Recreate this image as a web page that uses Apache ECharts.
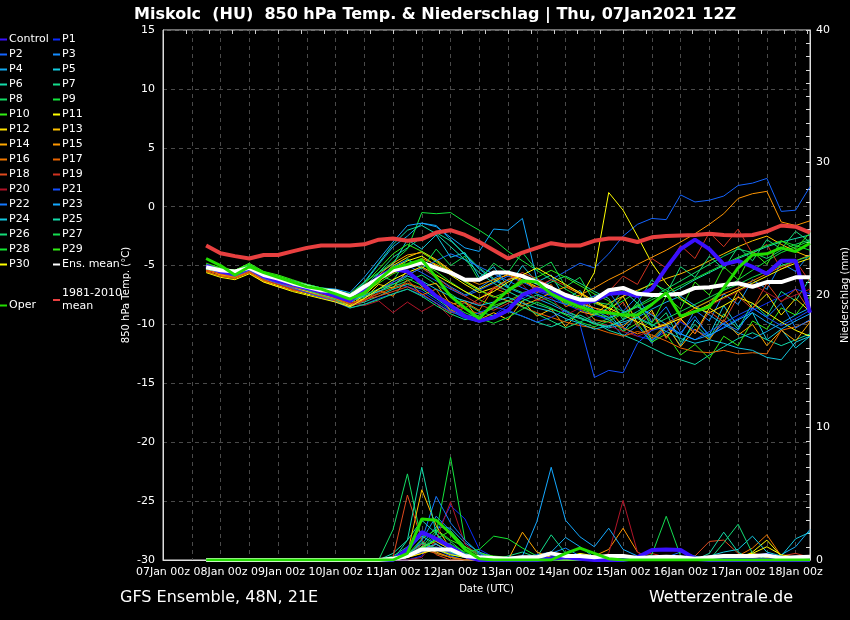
<!DOCTYPE html>
<html>
<head>
<meta charset="utf-8">
<title>Miskolc 850 hPa</title>
<script src="https://cdn.jsdelivr.net/npm/echarts@6/dist/echarts.min.js"></script>
<style>
  html, body { margin: 0; padding: 0; background: #000; }
  #chart { width: 850px; height: 620px; }
</style>
</head>
<body>
<div id="chart"></div>
<script>
// forecast hours from 07Jan 00z (run is 12z, first step 07Jan 18z)
var hours = [18,24,30,36,42,48,54,60,66,72,78,84,90,96,102,108,114,120,126,132,138,144,150,156,162,168,174,180,186,192,198,204,210,216,222,228,234,240,246,252,258,264,270];

// 850 hPa temperature (°C)
var tCtrl = [-5.0,-5.5,-5.7,-5.2,-5.9,-6.3,-6.6,-6.9,-7.2,-7.6,-8.0, -7.0,-6.0,-5.3,-5.5,-6.5,-7.6,-8.4,-9.3,-9.7,-9.4,-8.8,-7.5,-7.0,-7.3,-7.8,-8.2,-8.0, -7.4,-7.3,-7.6,-7.0,-5.2,-3.6,-2.8,-3.6,-4.9,-4.6,-5.1,-5.7,-4.6,-4.6,-9.0];
var tOper = [-4.4,-5.0,-5.8,-5.1,-5.6,-6.0,-6.4,-6.8,-7.0,-7.4,-7.85, -7.3,-6.2,-5.2,-4.9,-4.5,-6.0,-7.6,-8.6,-9.5,-8.2,-7.1,-6.3,-6.4,-7.4,-8.0,-8.5,-8.9, -9.0,-9.2,-9.2,-8.3,-7.3,-9.3,-8.9,-8.5,-6.9,-5.2,-4.1,-4.0,-3.5,-3.8,-3.1];
var tMean = [-5.15,-5.4,-5.5,-5.2,-5.8,-6.1,-6.5,-6.8,-7.1,-7.2,-7.6, -6.8,-6.1,-5.4,-5.1,-4.75,-5.2,-5.6,-6.2,-6.2,-5.6,-5.6,-5.9,-6.4,-6.9,-7.5,-7.9,-7.9, -7.1,-6.9,-7.4,-7.5,-7.5,-7.4,-6.9,-6.85,-6.65,-6.5,-6.8,-6.4,-6.4,-6.0,-6.0];
var tClim = [-3.3,-3.95,-4.2,-4.4,-4.1,-4.1,-3.8,-3.5,-3.3,-3.3,-3.3, -3.2,-2.8,-2.7,-2.9,-2.75,-2.2,-2.0,-2.4,-3.0,-3.7,-4.4,-3.9,-3.5,-3.1,-3.3,-3.3,-2.9, -2.7,-2.7,-3.0,-2.6,-2.5,-2.45,-2.4,-2.3,-2.4,-2.45,-2.4,-2.1,-1.6,-1.7,-2.2];

var tP1  = [-5.3,-5.6,-5.8,-5.3,-6.0,-6.4,-6.8,-7.2,-7.6,-8.0,-8.5, -7.8,-7.0,-6.5,-6.8,-7.2,-8.0,-8.8,-9.5,-9.8,-9.2,-8.4,-7.8,-7.2,-7.6,-8.3,-8.8,-9.2, -9.6,-10.2,-11.0,-11.3,-10.6,-9.8,-10.5,-11.0,-10.2,-9.5,-8.8,-8.2,-7.6,-7.0,-7.4];
var tP2  = [-5.0,-5.5,-5.7,-5.1,-5.9,-6.2,-6.6,-7.0,-7.4,-7.6,-8.1, -7.2,-6.1,-5.5,-5.0,-5.6,-6.3,-7.0,-7.6,-7.1,-6.5,-5.9,-6.4,-7.0,-6.2,-5.5,-4.8,-5.2, -4.0,-2.5,-1.5,-1.0,-1.1,1.0,0.4,0.55,0.9,1.8,2.0,2.4,-0.4,-0.3,1.7];
var tP3  = [-5.1,-5.4,-5.6,-5.2,-5.8,-6.2,-6.6,-6.9,-7.3,-7.6,-8.0, -7.0,-6.0,-5.1,-4.5,-5.2,-6.0,-6.8,-7.5,-6.9,-6.1,-5.5,-6.0,-6.6,-7.2,-7.8,-8.3,-9.0, -9.6,-11.0,-10.1,-11.6,-10.2,-10.9,-8.8,-9.7,-7.4,-8.3,-6.2,-7.0,-4.8,-5.5,-4.0];
var tP4  = [-5.2,-5.4,-5.6,-5.1,-5.8,-6.1,-6.5,-6.8,-7.1,-7.3,-7.7, -6.5,-4.9,-3.4,-2.5,-1.4,-1.6,-2.8,-4.1,-5.3,-6.2,-6.9,-7.4,-7.8,-8.3,-8.9,-9.4,-9.9, -10.3,-10.0,-9.4,-8.7,-8.1,-7.6,-8.4,-9.2,-10.0,-10.7,-11.2,-10.6,-9.9,-9.2,-8.6];
var tP5  = [-5.2,-5.6,-5.7,-5.2,-5.9,-6.2,-6.6,-7.0,-7.3,-7.7,-8.2, -7.4,-5.6,-4.9,-2.8,-3.6,-2.4,-4.3,-3.9,-6.0,-5.1,-6.8,-5.0,-6.4,-5.8,-7.9,-7.1,-8.9, -9.0,-10.6,-9.2,-11.4,-10.1,-11.8,-9.6,-10.9,-8.4,-10.2,-9.0,-11.3,-10.4,-12.0,-11.0];
var tP6  = [-5.3,-5.7,-5.8,-5.3,-6.0,-6.3,-6.7,-7.0,-7.4,-7.8,-8.4, -8.1,-7.6,-7.0,-6.6,-7.0,-7.8,-8.7,-9.4,-9.8,-9.5,-8.9,-9.3,-9.8,-10.2,-9.7,-9.2,-9.8, -10.5,-10.9,-11.4,-12.0,-12.6,-13.0,-13.4,-12.6,-11.9,-11.2,-10.7,-11.3,-11.8,-11.3,-10.8];
var tP7  = [-5.0,-5.3,-5.5,-5.0,-5.7,-6.0,-6.4,-6.7,-7.0,-7.3,-7.8, -6.8,-5.6,-4.3,-3.5,-2.6,-2.2,-2.9,-4.0,-5.2,-6.1,-6.8,-7.3,-7.0,-6.4,-5.9,-6.5,-7.2, -7.8,-9.6,-8.1,-10.2,-9.0,-11.5,-10.0,-11.2,-9.1,-10.4,-8.2,-9.3,-7.2,-8.0,-6.1];
var tP8  = [-5.3,-5.5,-5.6,-5.2,-5.9,-6.2,-6.6,-6.9,-7.2,-7.5,-8.0, -7.7,-7.2,-6.8,-6.3,-5.8,-6.6,-7.4,-8.2,-8.9,-9.3,-8.7,-8.0,-7.5,-8.1,-8.8,-9.4,-10.0, -9.5,-9.0,-8.4,-7.7,-7.0,-6.3,-5.6,-4.9,-4.2,-3.6,-3.9,-4.4,-3.7,-3.2,-2.8];
var tP9  = [-4.9,-5.3,-5.4,-4.9,-5.6,-5.9,-6.3,-6.6,-6.9,-7.1,-7.4, -6.4,-5.6,-4.7,-3.6,-0.5,-0.6,-0.5,-1.3,-2.0,-2.8,-3.8,-4.6,-5.4,-6.2,-7.0,-7.7,-8.2, -8.6,-8.0,-7.2,-6.5,-7.1,-7.9,-8.6,-8.0,-7.1,-6.2,-5.4,-4.6,-3.9,-3.4,-2.9];
var tP10 = [-4.8,-5.2,-5.4,-4.9,-5.6,-5.9,-6.3,-6.7,-7.0,-7.3,-7.8, -7.2,-6.5,-5.7,-5.2,-4.8,-5.5,-6.4,-7.2,-7.9,-8.4,-8.0,-7.4,-7.0,-7.5,-8.2,-8.7,-9.1, -9.4,-10.6,-9.9,-11.5,-10.8,-12.6,-11.7,-12.9,-11.0,-11.8,-9.7,-10.4,-8.6,-9.2,-7.6];
var tP11 = [-5.4,-5.7,-5.9,-5.5,-6.3,-6.7,-7.1,-7.4,-7.7,-8.0,-8.4, -7.5,-6.4,-5.2,-4.6,-4.2,-5.0,-5.8,-6.6,-7.3,-6.9,-6.2,-5.8,-6.5,-7.3,-8.0,-7.8,-5.6, 1.2,-0.3,-2.5,-4.8,-6.5,-7.8,-8.6,-9.0,-8.4,-7.7,-8.2,-9.0,-9.8,-10.5,-11.0];
var tP12 = [-5.3,-5.8,-6.0,-5.5,-6.2,-6.5,-6.9,-7.2,-7.5,-7.7,-8.1, -7.3,-6.1,-5.0,-4.3,-3.8,-4.5,-5.4,-6.3,-7.0,-6.4,-5.7,-6.2,-6.8,-7.3,-7.8,-8.2,-8.6, -8.9,-7.6,-9.9,-8.8,-11.1,-9.5,-10.8,-8.6,-9.4,-7.1,-8.6,-7.4,-9.2,-7.8,-8.9];
var tP13 = [-5.4,-5.7,-5.9,-5.4,-6.1,-6.5,-6.9,-7.2,-7.5,-7.8,-8.2, -7.8,-6.6,-6.9,-5.4,-6.8,-6.5,-8.3,-8.0,-9.6,-9.0,-9.6,-8.0,-9.3,-8.7,-10.2,-8.9,-9.2, -8.2,-7.6,-7.1,-6.6,-6.1,-5.7,-5.2,-4.6,-4.0,-3.4,-2.9,-2.5,-3.2,-3.8,-4.3];
var tP14 = [-5.1,-5.5,-5.8,-5.3,-6.0,-6.3,-6.7,-7.0,-7.3,-7.6,-8.0, -7.0,-5.8,-4.8,-4.1,-3.9,-4.6,-5.5,-6.4,-7.1,-7.6,-8.0,-8.4,-7.9,-7.3,-6.8,-7.4,-8.1, -8.7,-10.2,-9.1,-11.2,-10.0,-11.9,-10.4,-11.3,-9.6,-10.9,-10.0,-11.8,-10.5,-11.4,-9.8];
var tP15 = [-5.3,-5.8,-6.0,-5.4,-6.1,-6.3,-6.6,-6.9,-7.2,-7.4,-7.8, -7.0,-6.3,-5.6,-5.0,-4.4,-4.9,-5.5,-6.1,-6.6,-6.2,-5.8,-6.3,-6.9,-7.4,-7.9,-7.5,-6.9, -6.2,-5.6,-4.9,-4.3,-3.7,-3.0,-2.3,-1.5,-0.6,0.7,1.1,1.3,-1.3,-1.6,-1.2];
var tP16 = [-5.5,-5.9,-6.1,-5.6,-6.3,-6.6,-7.0,-7.3,-7.6,-7.9,-8.3, -8.0,-7.1,-7.6,-6.2,-7.5,-7.0,-8.9,-8.1,-8.8,-6.9,-7.4,-5.9,-7.3,-6.6,-8.5,-8.0,-9.6, -9.8,-10.3,-10.8,-10.4,-9.9,-9.3,-8.6,-8.0,-7.4,-6.9,-6.3,-5.7,-5.1,-4.6,-4.1];
var tP17 = [-5.5,-5.9,-6.0,-5.6,-6.4,-6.8,-7.1,-7.3,-7.6,-7.8,-8.2, -7.9,-7.4,-6.9,-6.5,-6.9,-7.5,-8.1,-8.7,-9.1,-8.6,-8.0,-8.5,-9.0,-9.4,-9.8,-10.1,-10.3, -10.7,-11.0,-10.6,-10.9,-11.4,-12.0,-12.3,-12.4,-12.2,-12.5,-12.4,-12.5,-10.5,-10.2,-9.7];
var tP18 = [-5.2,-5.6,-5.8,-5.3,-6.0,-6.4,-6.8,-7.1,-7.4,-7.7,-8.2, -7.9,-7.6,-7.2,-6.8,-7.4,-8.2,-9.0,-8.6,-7.8,-7.0,-6.2,-5.6,-6.1,-6.8,-7.4,-8.0,-8.6, -9.2,-8.1,-10.2,-9.0,-11.2,-9.6,-10.8,-8.9,-9.8,-7.6,-8.7,-6.5,-8.1,-7.0,-8.9];
var tP19 = [-5.4,-5.7,-5.9,-5.5,-6.2,-6.6,-7.0,-7.3,-7.7,-8.0,-8.5, -8.0,-7.3,-6.4,-5.8,-5.2,-6.0,-6.9,-7.6,-8.3,-8.8,-8.2,-7.4,-6.8,-6.2,-6.7,-7.3,-8.0, -7.2,-5.9,-6.6,-4.4,-5.2,-3.3,-4.4,-2.2,-3.4,-1.9,-4.0,-3.2,-5.3,-4.6,-6.4];
var tP20 = [-5.2,-5.5,-5.7,-5.3,-5.9,-6.3,-6.7,-7.0,-7.4,-7.7,-8.1, -8.4,-8.0,-9.0,-8.1,-8.9,-8.2,-9.4,-8.0,-8.3,-6.8,-7.1,-6.6,-8.0,-7.7,-9.2,-8.6,-9.9, -10.1,-10.6,-11.0,-10.5,-10.0,-9.5,-9.0,-8.4,-7.8,-7.2,-6.6,-7.3,-8.0,-7.5,-7.0];
var tP21 = [-5.2,-5.6,-5.9,-5.4,-6.1,-6.5,-6.9,-7.3,-7.7,-8.1,-8.6, -8.3,-7.8,-7.4,-7.0,-7.5,-8.2,-8.9,-9.4,-9.0,-8.5,-8.8,-9.3,-9.8,-9.4,-8.8,-10.0,-14.5, -13.9,-14.1,-11.6,-10.5,-10.2,-10.8,-11.3,-10.6,-9.9,-9.2,-8.6,-9.4,-10.1,-9.5,-8.8];
var tP22 = [-5.0,-5.3,-5.6,-5.1,-5.8,-6.1,-6.5,-6.9,-7.2,-7.5,-7.9, -7.5,-7.0,-6.4,-5.8,-5.2,-4.6,-4.0,-4.5,-5.1,-5.7,-6.3,-6.9,-7.4,-7.9,-8.3,-8.0,-7.6, -7.2,-8.9,-7.6,-9.8,-8.5,-10.7,-9.3,-11.1,-9.9,-10.5,-8.6,-9.4,-8.2,-10.3,-9.6];
var tP23 = [-5.1,-5.3,-5.5,-5.0,-5.7,-6.0,-6.3,-6.6,-6.9,-7.0,-7.3, -6.0,-4.5,-3.0,-1.6,-1.4,-1.7,-2.6,-3.5,-3.8,-1.9,-2.0,-1.0,-6.2,-7.0,-7.6,-8.2,-8.8, -9.4,-9.0,-8.5,-9.2,-10.0,-10.8,-11.3,-10.9,-10.3,-9.6,-9.0,-9.8,-10.4,-9.7,-9.1];
var tP24 = [-5.0,-5.5,-5.8,-5.3,-6.0,-6.3,-6.7,-7.0,-7.3,-7.5,-7.9, -7.6,-7.2,-6.6,-5.9,-6.3,-7.0,-7.6,-8.0,-8.4,-8.1,-7.7,-8.2,-8.6,-8.9,-9.5,-9.9,-10.4, -10.1,-9.8,-9.4,-10.0,-10.6,-11.2,-11.6,-11.3,-11.6,-12.0,-12.2,-12.8,-13.0,-11.5,-11.0];
var tP25 = [-5.1,-5.4,-5.6,-5.0,-5.7,-6.0,-6.4,-6.7,-7.0,-7.2,-7.6, -6.4,-4.8,-3.2,-2.0,-1.6,-2.3,-3.4,-4.5,-5.6,-6.5,-7.2,-7.8,-8.3,-8.7,-9.1,-9.5,-9.9, -10.2,-9.6,-8.9,-8.2,-7.5,-6.9,-6.2,-5.6,-5.0,-4.4,-3.9,-3.4,-3.0,-2.7,-2.4];
var tP26 = [-5.3,-5.5,-5.7,-5.2,-5.9,-6.3,-6.7,-7.1,-7.5,-7.9,-8.6, -8.3,-7.9,-7.4,-7.0,-7.6,-8.4,-9.1,-9.6,-9.2,-8.6,-8.0,-8.5,-9.1,-9.7,-10.3,-9.8,-9.2, -8.6,-7.1,-8.2,-6.2,-7.4,-5.1,-6.0,-4.2,-5.3,-3.4,-4.6,-2.8,-3.6,-2.1,-3.0];
var tP27 = [-5.0,-5.4,-5.6,-5.1,-5.8,-6.1,-6.5,-6.9,-7.2,-7.4,-7.9, -7.1,-5.8,-6.3,-4.4,-5.3,-3.6,-5.0,-4.2,-6.3,-4.8,-5.6,-3.9,-5.4,-4.7,-6.8,-6.0,-8.1, -8.3,-8.9,-9.5,-10.1,-9.5,-8.9,-8.3,-7.7,-7.1,-6.6,-6.0,-5.5,-5.0,-4.6,-4.2];
var tP28 = [-4.9,-5.3,-5.5,-5.0,-5.7,-6.0,-6.4,-6.8,-7.1,-7.4,-7.9, -7.5,-7.0,-6.6,-6.1,-6.7,-7.5,-8.3,-9.0,-9.5,-9.9,-9.4,-8.7,-8.1,-8.6,-9.2,-9.8,-10.2, -9.7,-9.1,-8.5,-7.9,-7.3,-6.7,-6.1,-5.5,-4.9,-4.3,-3.8,-3.3,-2.9,-3.3,-3.7];
var tP29 = [-4.9,-5.2,-5.4,-4.8,-5.5,-5.8,-6.2,-6.6,-6.9,-7.1,-7.5, -6.6,-5.3,-4.0,-3.2,-3.8,-4.7,-5.6,-6.4,-7.1,-7.7,-7.2,-6.5,-6.0,-5.4,-6.0,-6.7,-7.4, -8.0,-9.4,-8.3,-9.9,-7.6,-8.7,-6.4,-7.5,-5.1,-6.2,-3.8,-4.9,-2.9,-3.6,-2.2];
var tP30 = [-5.6,-6.0,-6.2,-5.7,-6.4,-6.8,-7.2,-7.5,-7.8,-8.1,-8.5, -7.8,-7.0,-6.2,-5.6,-5.1,-5.8,-6.5,-7.2,-7.8,-7.2,-6.4,-5.8,-5.2,-5.9,-6.6,-7.3,-8.0, -8.6,-9.2,-9.8,-10.4,-10.0,-9.5,-8.9,-8.3,-7.7,-7.1,-6.5,-5.9,-5.3,-4.8,-4.4];

// 6-hourly precipitation (mm)
var pCtrl = [0,0,0,0,0,0,0,0,0,0,0,0, 0,0,0.8,2.1,1.6,1.0,0.3,0,0,0,0,0,0.1,0.2,0.1,0,0,0,0.2,0.75,0.8,0.75,0.1,0,0,0,0,0,0,0,0];
var pOper = [0,0,0,0,0,0,0,0,0,0,0,0, 0,0,0.5,3.1,3.0,2.0,0.8,0.1,0,0,0,0,0,0.5,0.9,0.5,0.1,0,0,0,0,0,0,0,0,0,0,0,0,0,0];
var pMean = [0,0,0,0,0,0,0,0,0,0,0,0, 0,0.1,0.3,0.8,0.8,0.8,0.3,0.2,0.15,0.1,0.2,0.2,0.5,0.3,0.3,0.2,0.3,0.3,0.15,0.2,0.25,0.2,0.1,0.2,0.3,0.3,0.3,0.35,0.15,0.2,0.25];

var pP1  = [0,0,0,0,0,0,0,0,0,0,0,0, 0,0,0,0.3,2.0,4.1,3.1,0.8,0.2,0,0,0,0.3,0.5,0.2,0,0,0.2,0,0,0,0.3,0.2,0,0,0.2,0.3,0.5,0.2,0,0.1];
var pP2  = [0,0,0,0,0,0,0,0,0,0,0,0, 0,0,0.5,1.2,0.8,0.3,0,0,0,0,0.2,0.4,0.6,0.3,0,0,0,0,0,0,0,0,0,0.2,0.4,0.3,0,0,0,0,0];
var pP3  = [0,0,0,0,0,0,0,0,0,0,0,0, 0,0,0.3,1.5,3.3,2.2,1.0,0.4,0,0,0,0.2,0.5,0.9,0.3,0,0,0,0,0.2,0,0,0,0,0,0,0.3,0.4,0,0,0];
var pP4  = [0,0,0,0,0,0,0,0,0,0,0,0, 0,0,0.2,1.2,2.5,2.4,1.3,0.6,0.2,0,0,0.3,0.6,1.7,1.0,0.2,0,0,0,0,0,0,0,0,0.2,0.3,0.2,0,0.4,1.0,2.3];
var pP5  = [0,0,0,0,0,0,0,0,0,0,0,0, 0,0.2,0.8,1.8,1.2,0.6,0.3,0,0,0,0,0,0.2,0.3,0,0,0,0,0,0,0,0,0,0,0,0,0,0.2,0.3,0.2,0];
var pP6  = [0,0,0,0,0,0,0,0,0,0,0,0, 0,0.5,1.5,3.0,2.0,0.9,0.3,0,0,0,0,0,0,0,0,0,0,0,0,0,0,0,0,0,0,0,0,0,0,0,0];
var pP7  = [0,0,0,0,0,0,0,0,0,0,0,0, 0,0.3,1.0,2.2,1.4,0.8,0.2,0,0,0.3,0.6,0.2,1.9,0.5,0,0,0,0,0,0,0,0,0,0,0,0,0,0,0,0,0];
var pP8  = [0,0,0,0,0,0,0,0,0,0,0,0, 0,2.3,6.5,1.4,0.5,0.2,0,0,0,0,0,0,0,0,0,0,0,0,0,0,0,0,0,0,0,0,0,0,0,0,0];
var pP9  = [0,0,0,0,0,0,0,0,0,0,0,0, 0,0,0.2,0.8,2.0,7.75,1.5,0.5,0.2,0,0,0,0,0,0,0,0,0,0,0,0,0,0,0,0,0,0,0,0,0,0];
var pP10 = [0,0,0,0,0,0,0,0,0,0,0,0, 0,0,0.4,1.6,2.3,1.5,1.0,0.5,0.3,0.2,0,0,0,0,0,0,0,0,0,0,0,0,0,0,0,0,0.2,0.4,0.2,0,0];
var pP11 = [0,0,0,0,0,0,0,0,0,0,0,0, 0,0,0.2,0.6,0.9,0.5,0.2,0,0,0,0,0,0,0.2,0.5,0.3,0,0,0,0,0,0,0,0,0,0,0.6,1.5,0.3,0,0];
var pP12 = [0,0,0,0,0,0,0,0,0,0,0,0, 0,0,0.3,1.0,1.4,0.8,0.3,0,0,0,0,0.3,0.6,0.2,0,0,0,0,0,0,0,0,0,0,0,0.2,0.4,0.3,0,0,0];
var pP13 = [0,0,0,0,0,0,0,0,0,0,0,0, 0,0,0.5,5.3,2.6,0.8,0.2,0,0,0,0,0,0,0,0,0,0,0,0,0,0,0,0,0,0,0,0,0,0,0,0];
var pP14 = [0,0,0,0,0,0,0,0,0,0,0,0, 0,0,0.3,1.0,0.6,0.2,0,0,0,0,2.1,0.6,0.2,0,0,0,0,0,0,0,0,0,0,0,0,0.3,0.4,0.2,0,0,0];
var pP15 = [0,0,0,0,0,0,0,0,0,0,0,0, 0,0,0.2,0.7,1.2,0.5,0.2,0,0,0,0,0,0,0,0,0.3,0.8,2.4,0.6,0,0,0,0,0,0,0.2,0.5,0.3,0,0.2,0.3];
var pP16 = [0,0,0,0,0,0,0,0,0,0,0,0, 0,0,0.2,0.5,0.9,0.6,0.2,0,0,0,0,0,0,0,0,0,0,0,0,0,0,0,0,0,0,0.3,0.9,1.9,0.3,0,0];
var pP17 = [0,0,0,0,0,0,0,0,0,0,0,0, 0,0,0.3,0.8,0.5,0.2,0,0,0,0,0,0,0,0,0,0,0,0,0,0,0,0,0,0,0,0,0,0,0,0,0];
var pP18 = [0,0,0,0,0,0,0,0,0,0,0,0, 0,0.2,4.9,1.5,0.4,0,0,0,0,0,0,0,0,0,0,0,0,0,0,0,0,0,0.3,1.4,1.5,0.5,0.2,0,0,0,0];
var pP19 = [0,0,0,0,0,0,0,0,0,0,0,0, 0,0,0.4,1.2,0.9,0.5,0.2,0,0,0,0,0,0,0,0,0,0,0,0.3,0.5,0.2,0,0,0,0,0,0,0,0.3,0.5,0.2];
var pP20 = [0,0,0,0,0,0,0,0,0,0,0,0, 0,0,0,0.2,1.5,4.4,1.2,0.3,0,0,0,0,0,0,0,0,0.5,4.5,0.6,0,0,0,0,0,0,0,0,0,0,0,0];
var pP21 = [0,0,0,0,0,0,0,0,0,0,0,0, 0,0,0.2,0.6,1.0,0.5,0.2,0,0,0,0,0,0,0,0,0,0,0,0,0,0,0,0,0,0,0,0,0,0,0,0];
var pP22 = [0,0,0,0,0,0,0,0,0,0,0,0, 0,0,0.2,1.5,4.8,2.8,1.5,0.5,0,0,0,0,0,0,0,0,0,0,0,0,0.2,0.6,0.3,0,0,0,0,0,0,0,0];
var pP23 = [0,0,0,0,0,0,0,0,0,0,0,0, 0,0,0.2,0.8,1.2,0.6,0.3,0.2,0,0.2,0.3,2.9,7.0,3.0,1.75,1.0,2.4,0.8,0.3,0,0,0,0,0,0,0,0,0,0,0,0];
var pP24 = [0,0,0,0,0,0,0,0,0,0,0,0, 0,0,0.3,0.9,1.6,1.1,0.5,0.2,0,0,0,0,0,0,0,0,0,0,0,0,0,0,0,0.3,0.6,0.8,1.8,0.6,0.3,1.6,2.1];
var pP25 = [0,0,0,0,0,0,0,0,0,0,0,0, 0,0,1.5,7.0,2.0,0.6,0.2,0,0,0,0,0,0,0,0,0,0,0,0,0,0,0,0,0.5,2.1,0.6,0,0,0,0,0];
var pP26 = [0,0,0,0,0,0,0,0,0,0,0,0, 0,0,0.4,1.3,0.9,0.4,0.2,0,0,0,0,0,0,0,0,0,0,0,0,0,0,0,0,0,1.3,2.7,0.5,0,0,0,0];
var pP27 = [0,0,0,0,0,0,0,0,0,0,0,0, 0,0,0.3,1.0,2.2,1.4,0.5,0.2,0,0,0,0,0,0,0,0,0,0,0,0.4,3.3,0.3,0,0,0,0,0,0,0,0,0];
var pP28 = [0,0,0,0,0,0,0,0,0,0,0,0, 0,0,0.3,0.9,1.5,1.2,0.6,0.8,1.8,1.6,0.9,0.3,0,0,0,0,0,0,0,0,0,0,0,0,0,0,0,0,0,0,0];
var pP29 = [0,0,0,0,0,0,0,0,0,0,0,0, 0,0,0.2,0.8,1.6,2.2,1.0,0.3,0,0,0,0,0,0,0,0,0,0,0,0,0,0,0,0,0,0,0,0,0,0,0];
var pP30 = [0,0,0,0,0,0,0,0,0,0,0,0, 0,0,0.2,0.5,0.8,0.4,0.2,0,0,0,0,0,0,0,0,0,0,0,0,0,0,0,0,0,0,0.3,0.5,1.0,0.4,0.2,0.3];

var memberNames = ['P1','P2','P3','P4','P5','P6','P7','P8','P9','P10','P11','P12','P13','P14','P15',
                   'P16','P17','P18','P19','P20','P21','P22','P23','P24','P25','P26','P27','P28','P29','P30'];
var memberColors = ['#0a2cff','#1464ff','#148cff','#14aaf0','#14cce0','#14dcaa','#14dc8c','#14dc64','#14e63c','#32ee14',
                    '#ffff00','#ffe000','#ffc000','#ffa800','#ff9600','#f07800','#e86400','#e04a1e','#d03220','#b01428',
                    '#1450ff','#1478ff','#14a8ff','#14c8e0','#14dcaa','#14dc78','#14dc50','#14e632','#32ee14','#ffff00'];
var memberTemps = [tP1,tP2,tP3,tP4,tP5,tP6,tP7,tP8,tP9,tP10,tP11,tP12,tP13,tP14,tP15,
                   tP16,tP17,tP18,tP19,tP20,tP21,tP22,tP23,tP24,tP25,tP26,tP27,tP28,tP29,tP30];
var memberPrecs = [pP1,pP2,pP3,pP4,pP5,pP6,pP7,pP8,pP9,pP10,pP11,pP12,pP13,pP14,pP15,
                   pP16,pP17,pP18,pP19,pP20,pP21,pP22,pP23,pP24,pP25,pP26,pP27,pP28,pP29,pP30];

function pairs(vals) {
    return hours.map(function (h, k) { return [h, vals[k]]; });
}
function line(name, vals, color, width, axis, z) {
    return {
        name: name, type: 'line', data: pairs(vals), yAxisIndex: axis,
        symbol: 'none', silent: true, z: z,
        itemStyle: { color: color },
        lineStyle: { color: color, width: width }
    };
}

var series = [];
for (var i = 0; i < memberNames.length; i++) {
    series.push(line(memberNames[i], memberPrecs[i], memberColors[i], 1, 1, 2));
    series.push(line(memberNames[i], memberTemps[i], memberColors[i], 1, 0, 2));
}
series.push(line('Control', pCtrl, '#3a10ff', 4, 1, 3));
series.push(line('Control', tCtrl, '#3a10ff', 4, 0, 3));
series.push(line('Ens. mean', pMean, '#ffffff', 4, 1, 4));
series.push(line('Ens. mean', tMean, '#ffffff', 4, 0, 4));
series.push(line('Oper', pOper, '#22dd00', 3, 1, 5));
series.push(line('Oper', tOper, '#22dd00', 3, 0, 5));
series.push(line('1981-2010 mean', tClim, '#e84040', 4, 0, 6));

var col1 = ['Control','P2','P4','P6','P8','P10','P12','P14','P16','P18','P20','P22','P24','P26','P28','P30'];
var col2 = ['P1','P3','P5','P7','P9','P11','P13','P15','P17','P19','P21','P23','P25','P27','P29','Ens. mean'];

function legendBox(left, top, names) {
    return {
        orient: 'vertical', left: left, top: top, data: names,
        icon: 'rect', itemWidth: 7, itemHeight: 2, itemGap: 2,
        selectedMode: false, padding: 0,
        textStyle: { color: '#fff', fontSize: 11, lineHeight: 13, padding: [0, 0, 0, -3] },
        formatter: function (n) { return n === '1981-2010 mean' ? '1981-2010\nmean' : n; }
    };
}

var chart = echarts.init(document.getElementById('chart'));
chart.setOption({
    backgroundColor: '#000',
    animation: false,
    textStyle: { fontFamily: 'DejaVu Sans' },
    title: {
        text: 'Miskolc  (HU)  850 hPa Temp. & Niederschlag | Thu, 07Jan2021 12Z',
        left: 129, top: 2,
        textStyle: { color: '#fff', fontSize: 16, fontWeight: 'bold', fontFamily: 'DejaVu Sans' }
    },
    legend: [
        legendBox(0, 33, col1),
        legendBox(53, 33, col2),
        legendBox(53, 287, ['1981-2010 mean']),
        legendBox(0, 299, ['Oper'])
    ],
    grid: {
        left: 163, right: 40, top: 30, bottom: 60, containLabel: false, outerBoundsMode: 'none',
        show: true, borderColor: '#ddd', borderWidth: 1
    },
    xAxis: [{
        type: 'value', min: 0, max: 270, interval: 12,
        axisLine: { onZero: false, lineStyle: { color: '#ddd' } },
        axisTick: { show: false },
        axisLabel: {
            color: '#fff', fontSize: 11, margin: 7, showMaxLabel: false,
            formatter: function (v) {
                if (v % 24 !== 0) return '';
                var d = 7 + v / 24;
                return (d < 10 ? '0' + d : d) + 'Jan 00z';
            }
        },
        splitLine: { show: true, lineStyle: { color: '#4a4a4a', type: [4, 4] } },
        name: 'Date (UTC)', nameLocation: 'middle', nameGap: 24, nameMoveOverlap: false,
        nameTextStyle: { color: '#fff', fontSize: 10 }
    }, {
        type: 'value', position: 'top', min: -5, max: 265, interval: 9.6,
        axisLine: { show: false, onZero: false },
        axisTick: { show: true, inside: true, length: 4, lineStyle: { color: '#ccc' } },
        axisLabel: { show: false },
        splitLine: { show: false }
    }],
    yAxis: [{
        type: 'value', min: -30, max: 15, interval: 5, position: 'left',
        axisLine: { show: true, onZero: false, lineStyle: { color: '#ddd' } },
        axisTick: { show: false },
        axisLabel: { color: '#fff', fontSize: 11, margin: 8 },
        splitLine: { show: true, lineStyle: { color: '#4a4a4a', type: [4, 4] } },
        name: '850 hPa Temp. (°C)', nameLocation: 'middle', nameGap: 32, nameRotate: 90, nameMoveOverlap: false,
        nameTextStyle: { color: '#fff', fontSize: 10 }
    }, {
        type: 'value', min: 0, max: 40, interval: 10, position: 'right',
        axisLine: { show: true, onZero: false, lineStyle: { color: '#ddd' } },
        axisTick: { show: true, inside: true, length: 4, lineStyle: { color: '#ddd' } },
        minorTick: { show: true, splitNumber: 10, length: 4, lineStyle: { color: '#ddd' } },
        axisLabel: { color: '#fff', fontSize: 11, margin: 6 },
        splitLine: { show: false },
        name: 'Niederschlag (mm)', nameLocation: 'middle', nameGap: 30, nameRotate: 90, nameMoveOverlap: false,
        nameTextStyle: { color: '#fff', fontSize: 10 }
    }],
    graphic: [
        { type: 'text', left: 120, top: 590, style: { text: 'GFS Ensemble, 48N, 21E', fill: '#fff', font: '16px "DejaVu Sans"' } },
        { type: 'text', right: 57, top: 590, style: { text: 'Wetterzentrale.de', fill: '#fff', font: '16px "DejaVu Sans"' } }
    ],
    series: series
});
</script>
</body>
</html>
